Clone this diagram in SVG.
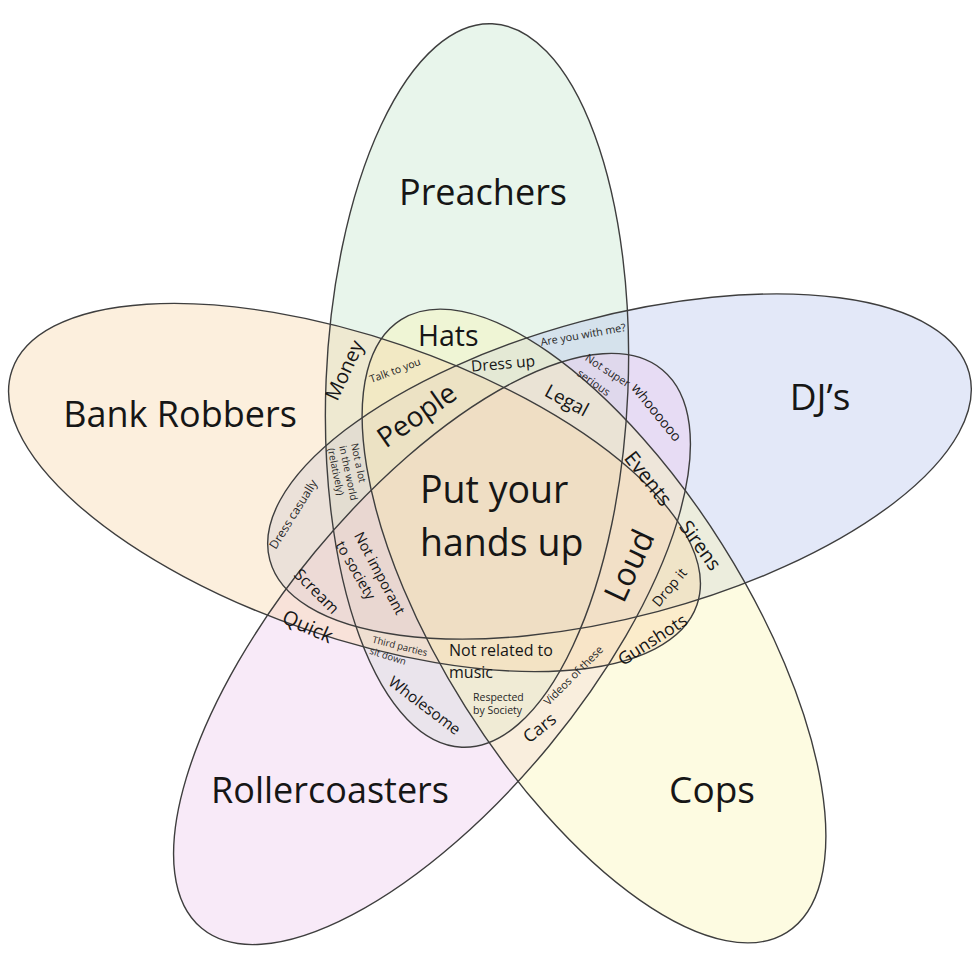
<svg xmlns="http://www.w3.org/2000/svg" xmlns:xlink="http://www.w3.org/1999/xlink" width="974" height="958" viewBox="0 0 974 958">
<defs>
<ellipse id="g-preachers" cx="477" cy="385.5" rx="151" ry="362" transform="rotate(2.4 477 385.5)"/>
<ellipse id="g-djs" cx="619.5" cy="466.5" rx="362" ry="150" transform="rotate(-15 619.5 466.5)"/>
<ellipse id="g-cops" cx="594" cy="626" rx="362" ry="152" transform="rotate(57.8 594 626)"/>
<ellipse id="g-roller" cx="432" cy="649" rx="362" ry="152" transform="rotate(-50.5 432 649)"/>
<ellipse id="g-bank" cx="354.5" cy="487.5" rx="362" ry="150" transform="rotate(18.9 354.5 487.5)"/>
</defs>
<style>
text { font-family: "Open Sans", "Noto Sans", "Liberation Sans", sans-serif; fill: #161616; }
.big { font-size: 36px; text-anchor: middle; }
.r { text-anchor: middle; dominant-baseline: central; }
.fillset { fill-opacity: 0.4; stroke: none; }
.outline { fill: none; stroke: #3e3e3e; stroke-width: 1.4; }
.sm { fill: #262626; }
</style>
<rect width="974" height="958" fill="#ffffff"/>
<g id="node-preachers">
<use xlink:href="#g-preachers" class="fillset" fill="#c6e6cd"/>
<text class="big" x="483" y="205">Preachers</text>
</g>
<g id="node-djs">
<use xlink:href="#g-djs" class="fillset" fill="#b9c5ed"/>
<text class="big" x="820" y="410" style="font-size:37px">DJ’s</text>
</g>
<g id="node-rollercoasters">
<use xlink:href="#g-roller" class="fillset" fill="#edcaed"/>
<text class="big" x="330" y="803">Rollercoasters</text>
</g>
<g id="node-cops">
<use xlink:href="#g-cops" class="fillset" fill="#faf5b4"/>
<text class="big" x="712" y="803" style="font-size:37px">Cops</text>
</g>
<g id="node-bankrobbers">
<use xlink:href="#g-bank" class="fillset" fill="#f7d7aa"/>
<text class="big" x="180" y="427">Bank Robbers</text>
</g>
<g id="connectors">
<use xlink:href="#g-preachers" class="outline"/>
<use xlink:href="#g-djs" class="outline"/>
<use xlink:href="#g-roller" class="outline"/>
<use xlink:href="#g-cops" class="outline"/>
<use xlink:href="#g-bank" class="outline"/>
</g>
<g id="region-labels">
<text x="420" y="503" style="font-size:37.5px">Put your</text>
<text x="420" y="556" style="font-size:37.5px">hands up</text>
<text x="418" y="346" style="font-size:28.5px">Hats</text>
<text class="r" transform="translate(344 370) rotate(-65)" style="font-size:20px">Money</text>
<text class="r sm" transform="translate(395 370) rotate(-20)" style="font-size:10.5px">Talk to you</text>
<text class="r" transform="translate(416 414) rotate(-35)" style="font-size:28px">People</text>
<text class="r" transform="translate(503 363) rotate(-5)" style="font-size:15.5px">Dress up</text>
<text class="r sm" transform="translate(583 334) rotate(-10)" style="font-size:10.8px">Are you with me?</text>
<text class="r sm" transform="translate(608 370) rotate(33)" style="font-size:11px">Not super</text>
<text class="r sm" transform="translate(594 382) rotate(35)" style="font-size:11px">serious</text>
<text class="r" transform="translate(567 400) rotate(28)" style="font-size:19px">Legal</text>
<text class="r" transform="translate(657 412) rotate(51)" style="font-size:14px">whoooooo</text>
<text class="r" transform="translate(649 478) rotate(52)" style="font-size:20.5px">Events</text>
<text class="r" transform="translate(701 545) rotate(54)" style="font-size:19.5px">Sirens</text>
<text class="r" transform="translate(628 565) rotate(-65)" style="font-size:32px">Loud</text>
<text class="r" transform="translate(669 587) rotate(-50)" style="font-size:14px">Drop it</text>
<text class="r" transform="translate(652 639) rotate(-33)" style="font-size:17.5px">Gunshots</text>
<text class="r sm" transform="translate(573 675) rotate(-45)" style="font-size:11px">Videos of these</text>
<text class="r" transform="translate(539 727) rotate(-38)" style="font-size:17.5px">Cars</text>
<text class="sm" x="473" y="701" style="font-size:10.5px">Respected</text>
<text class="sm" x="473" y="714" style="font-size:10.5px">by Society</text>
<text x="449" y="656" style="font-size:16px">Not related to</text>
<text x="449" y="678" style="font-size:16px">music</text>
<text class="r" transform="translate(425 705) rotate(37)" style="font-size:15.5px">Wholesome</text>
<text class="r sm" transform="translate(400 646) rotate(14)" style="font-size:9.5px">Third parties</text>
<text class="r sm" transform="translate(388 656) rotate(18)" style="font-size:9.5px">sit down</text>
<text class="r" transform="translate(308 626) rotate(24)" style="font-size:20px">Quick</text>
<text class="r" transform="translate(317 591) rotate(45)" style="font-size:16px">Scream</text>
<text class="r" transform="translate(380 573) rotate(62)" style="font-size:14.5px">Not imporant</text>
<text class="r" transform="translate(356 570) rotate(60)" style="font-size:14.5px">to society</text>
<text class="r sm" transform="translate(293 514) rotate(-58)" style="font-size:12px">Dress casually</text>
<g transform="translate(351 444) rotate(78)" class="sm" style="font-size:10px">
<text x="0" y="0" class="sm">Not a lot</text>
<text x="0" y="12" class="sm">in the world</text>
<text x="0" y="24" class="sm">(relatively)</text>
</g>
</g>
</svg>
